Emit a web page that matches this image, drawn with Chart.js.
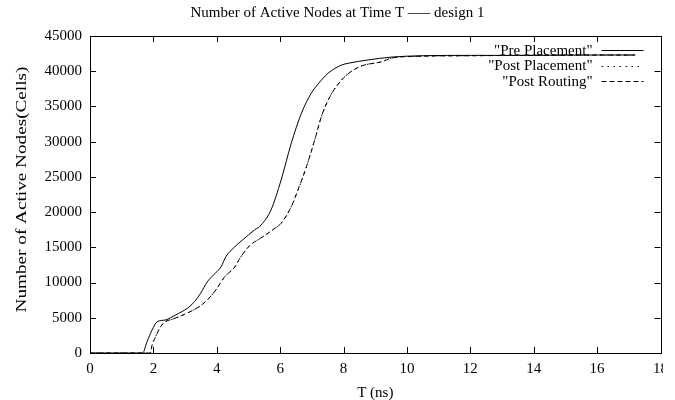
<!DOCTYPE html>
<html>
<head>
<meta charset="utf-8">
<script src="https://cdn.jsdelivr.net/npm/chart.js@4/dist/chart.umd.min.js"></script>
<style>
  html, body { margin: 0; padding: 0; background: #fff; }
  #wrap { width: 663px; height: 400px; overflow: hidden; }
</style>
</head>
<body>
<div id="wrap"><canvas id="nodes" width="675" height="400"></canvas></div>
<script>
// time axis (ns) and active node counts per flow stage
var preT = [0, 1.66, 1.80, 1.96, 2.12, 2.38, 2.70, 3.07, 3.30, 3.49, 3.70, 3.90, 4.13, 4.29, 4.55, 4.80, 5.19, 5.40, 5.71, 6.03, 6.35, 6.67, 6.98, 7.20, 7.51, 7.94, 8.15, 8.78, 9.50, 10.5, 12, 14, 16, 17.2];
var preNodes = [0, 0, 1600, 3270, 4440, 4690, 5400, 6350, 7300, 8480, 10100, 11100, 12200, 13700, 15000, 16000, 17460, 18170, 20300, 24560, 29770, 34030, 36870, 38200, 39710, 40880, 41130, 41600, 42000, 42200, 42250, 42250, 42300, 42300];

var placeT = [0, 1.90, 1.96, 2.07, 2.17, 2.33, 2.60, 2.86, 3.44, 3.70, 3.97, 4.23, 4.60, 4.71, 5.05, 5.35, 5.61, 5.80, 6.03, 6.35, 6.56, 6.83, 7.09, 7.30, 7.57, 7.94, 8.25, 8.60, 9.21, 9.52, 10.2, 12, 14, 16, 17.2];
var placeNodes = [0, 0, 1150, 2300, 3300, 4300, 4800, 5250, 6570, 7520, 8940, 10700, 12400, 13300, 15300, 16200, 16990, 17600, 18410, 20770, 23100, 26450, 30240, 33550, 36390, 38760, 40000, 40800, 41350, 41880, 42100, 42200, 42250, 42300, 42300];

var routeT = [0, 1.90, 1.96, 2.07, 2.17, 2.33, 2.60, 2.86, 3.44, 3.70, 3.97, 4.23, 4.60, 4.71, 5.05, 5.35, 5.61, 5.80, 6.03, 6.35, 6.56, 6.83, 7.09, 7.30, 7.57, 7.94, 8.25, 8.60, 9.21, 9.52, 10.2, 12, 14, 16, 17.2];
var routeNodes = [0, 0, 1140, 2300, 3270, 4300, 4800, 5250, 6570, 7520, 8940, 10700, 12400, 13300, 15300, 16200, 16990, 17600, 18410, 20770, 23140, 26450, 30240, 33550, 36390, 38760, 40000, 40800, 41350, 41880, 42100, 42200, 42250, 42300, 42300];

var xTicks = [0, 2, 4, 6, 8, 10, 12, 14, 16, 18];
var yTicks = [0, 5000, 10000, 15000, 20000, 25000, 30000, 35000, 40000, 45000];

var serif = "'Liberation Serif', 'Times New Roman', serif";
var yTitle = 'Number of Active Nodes(Cells)';

function pairs(xs, ys) {
    var out = [];
    for (var i = 0; i < xs.length; i++) {
        out.push({ x: xs[i], y: ys[i] });
    }
    return out;
}

function series(label, xs, ys, dash) {
    return {
        label: label,
        data: pairs(xs, ys),
        borderColor: '#000',
        borderWidth: 1,
        borderDash: dash,
        pointRadius: 0,
        fill: false,
        cubicInterpolationMode: 'monotone'
    };
}

// box around the plot with inward ticks on all four sides
var frame = {
    id: 'frame',
    afterDraw: function (chart) {
        var ctx = chart.ctx, a = chart.chartArea;
        var xs = chart.scales.x, ys = chart.scales.y;
        var len = 6;
        ctx.save();
        ctx.strokeStyle = '#000';
        ctx.lineWidth = 1;
        ctx.strokeRect(Math.round(a.left) + 0.5, Math.round(a.top) + 0.5,
            Math.round(a.right - a.left), Math.round(a.bottom - a.top));
        ctx.beginPath();
        xs.ticks.forEach(function (t) {
            var px = Math.round(xs.getPixelForValue(t.value)) + 0.5;
            ctx.moveTo(px, a.bottom); ctx.lineTo(px, a.bottom - len);
            ctx.moveTo(px, a.top); ctx.lineTo(px, a.top + len);
        });
        ys.ticks.forEach(function (t) {
            var py = Math.round(ys.getPixelForValue(t.value)) + 0.5;
            ctx.moveTo(a.left, py); ctx.lineTo(a.left + len, py);
            ctx.moveTo(a.right, py); ctx.lineTo(a.right - len, py);
        });
        ctx.stroke();

        // rotated y label, stretched along its baseline like the gnuplot output
        ctx.translate(22, (a.top + a.bottom) / 2 - 5);
        ctx.rotate(-Math.PI / 2);
        ctx.scale(1.28, 1);
        ctx.font = '15px ' + serif;
        ctx.fillStyle = '#000';
        ctx.textAlign = 'center';
        ctx.textBaseline = 'middle';
        ctx.fillText(yTitle, 0, 0);
        ctx.restore();
    }
};

// key in the top right corner: label right-aligned, line sample after it
var key = {
    id: 'key',
    afterDatasetsDraw: function (chart) {
        var ctx = chart.ctx, a = chart.chartArea;
        var textRight = a.right - 68;
        var lineL = a.right - 59, lineR = a.right - 17;
        ctx.save();
        ctx.font = '15px ' + serif;
        ctx.textAlign = 'right';
        ctx.textBaseline = 'middle';
        chart.data.datasets.slice().reverse().forEach(function (ds, i) {
            var y = a.top + 14 + i * 15.5;
            ctx.fillStyle = '#000';
            ctx.fillText(ds.label, textRight, y + 1);
            ctx.beginPath();
            ctx.setLineDash(ds.borderDash || []);
            ctx.strokeStyle = '#000';
            ctx.lineWidth = 1;
            ctx.moveTo(lineL, Math.round(y) + 0.5);
            ctx.lineTo(lineR, Math.round(y) + 0.5);
            ctx.stroke();
        });
        ctx.restore();
    }
};

new Chart(document.getElementById('nodes'), {
    type: 'line',
    data: {
        datasets: [
            series('"Post Routing"', routeT, routeNodes, [5, 3]),
            series('"Post Placement"', placeT, placeNodes, [1.5, 4.5]),
            series('"Pre Placement"', preT, preNodes, [])
        ]
    },
    options: {
        responsive: false,
        animation: false,
        layout: { padding: { left: 10, right: 10, top: 0, bottom: 0 } },
        plugins: {
            legend: { display: false },
            tooltip: { enabled: false },
            title: {
                display: true,
                text: 'Number of Active Nodes at Time T \u2013\u2013\u2013 design 1',
                color: '#000',
                font: { family: serif, size: 15, weight: 'normal' },
                padding: { top: 4, bottom: 14 }
            }
        },
        scales: {
            x: {
                type: 'linear',
                min: 0,
                max: 18,
                afterFit: function (s) { s.height = 47; },
                afterBuildTicks: function (s) {
                    s.ticks = xTicks.map(function (v) { return { value: v }; });
                },
                grid: { display: false, drawTicks: false },
                border: { display: false },
                ticks: {
                    color: '#000',
                    padding: 7,
                    maxRotation: 0,
                    font: { family: serif, size: 15 },
                    callback: function (v) { return String(v); }
                },
                title: {
                    display: true,
                    text: 'T (ns)',
                    color: '#000',
                    font: { family: serif, size: 15 },
                    padding: { top: 0, bottom: -2 }
                }
            },
            y: {
                min: 0,
                max: 45000,
                afterFit: function (s) { s.width = 80; },
                afterBuildTicks: function (s) {
                    s.ticks = yTicks.map(function (v) { return { value: v }; });
                },
                grid: { display: false, drawTicks: false },
                border: { display: false },
                ticks: {
                    color: '#000',
                    padding: 8,
                    font: { family: serif, size: 15 },
                    callback: function (v) { return String(v); }
                },
                title: { display: false }
            }
        }
    },
    plugins: [frame, key]
});
</script>
</body>
</html>
